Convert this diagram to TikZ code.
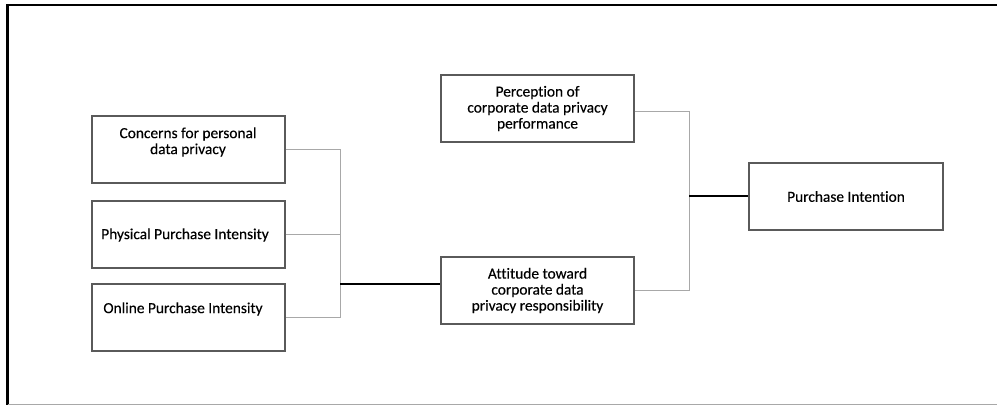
\documentclass[tikz,border=0pt]{standalone}
\usepackage{fontspec}
\setmainfont{Carlito}[Ligatures=NoCommon,FakeBold=0.3]
\definecolor{boxgray}{HTML}{5A5A5A}
\definecolor{lgray}{HTML}{A8A8A8}
\begin{document}
\begin{tikzpicture}[x=1pt,y=-1pt,
  box/.style={draw=boxgray, line width=1.1pt, minimum width=193pt, minimum height=67pt, inner sep=0pt, align=center, font=\fontsize{15.4}{16}\selectfont},
  txt/.style={font=\fontsize{15.4}{16}\selectfont, align=center, inner sep=0pt},
  thinline/.style={draw=lgray, line width=0.9pt},
  thickline/.style={draw=black, line width=2pt}]
\useasboundingbox (0,0) rectangle (997,405);
% frame
\draw[line width=2.6pt] (997,5) -- (7.5,5) -- (7.5,404.5);
\draw[lgray, line width=1.4pt] (7.5,404.3) -- (997,404.3);
% boxes
\node[box] (conc) at (188.5,149.5) {};
\node[txt] (conct) at (188,142) {Concerns for personal\\data privacy};
\node[box] (phys) at (188.5,234.5) {};
\node[txt] (physt) at (185,235) {Physical Purchase Intensity};
\node[box] (onl) at (188.5,317.5) {};
\node[txt] (onlt) at (183,309) {Online Purchase Intensity};
\node[box] (perc) at (537.5,108.5) {Perception of\\corporate data privacy\\performance};
\node[box] (att) at (537.5,290.5) {Attitude toward\\corporate data\\privacy responsibility};
\node[box, minimum width=194pt] (pi) at (846,196.5) {Purchase Intention};
% left bus
\coordinate (busL) at (340,284);
\draw[thinline] (conc.east) -| (busL |- onl.east) -- (onl.east);
\draw[thinline] (phys.east) -- (phys.east -| busL);
\draw[thickline] (busL) -- (busL -| att.west);
% right bus
\coordinate (busR) at (689,196);
\draw[thinline] ([yshift=-2.5pt]perc.east) -| (busR |- att.east) -- (att.east);
\draw[thickline] (busR) -- (busR -| pi.west);
\end{tikzpicture}
\end{document}
